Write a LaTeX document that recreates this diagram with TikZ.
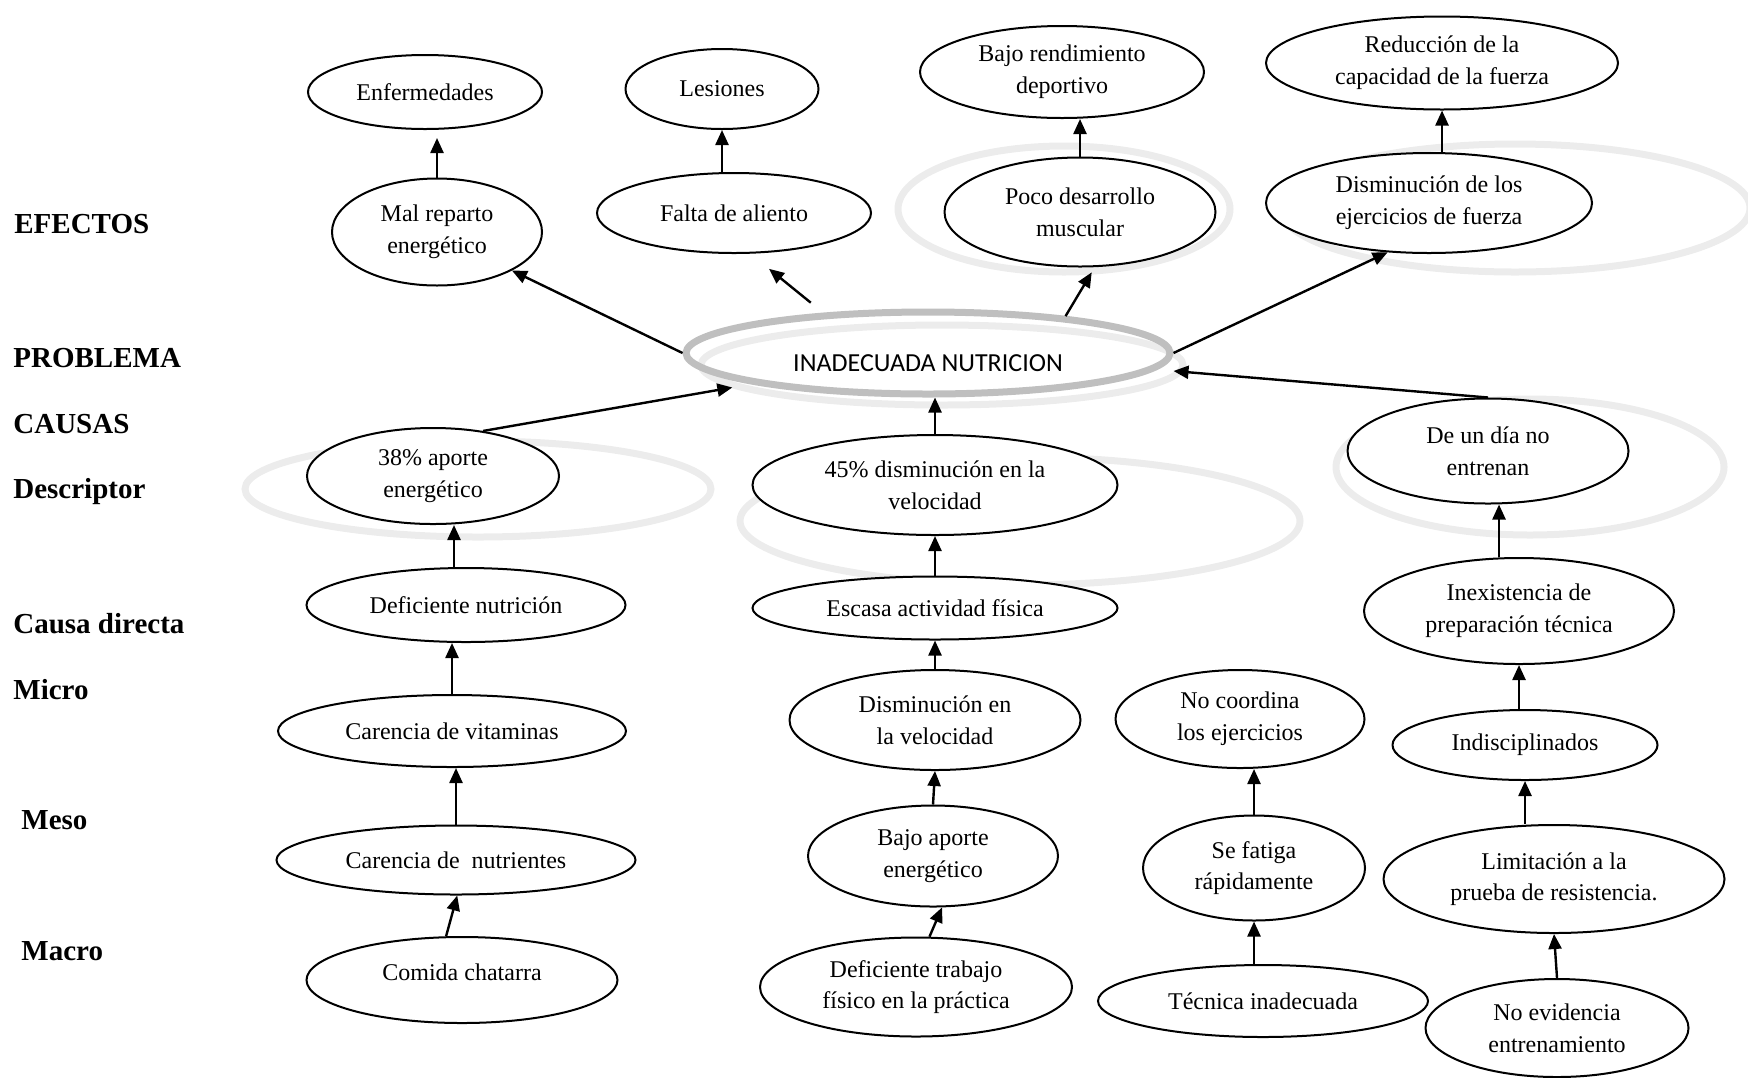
\documentclass[tikz,border=0pt]{standalone}
\usepackage{fontspec}
\setmainfont{Liberation Serif}
\newfontfamily\probfont{Carlito}
\usepackage{tikz}
\usetikzlibrary{shapes.geometric,arrows.meta}
\definecolor{ringlight}{RGB}{236,236,236}
\definecolor{ringdark}{RGB}{191,191,191}
\tikzstyle{bubble}=[ellipse,draw=black,line width=1pt,fill=white,inner sep=0pt,align=center,font=\fontsize{12}{15.8}\selectfont]
\tikzstyle{ring}=[draw=ringlight,line width=3.5pt]
\tikzstyle{link}=[draw,line width=1.2pt,-{Triangle[length=7.5pt,width=6.5pt]}]
\tikzstyle{level}=[anchor=base west,inner sep=0pt,font=\bfseries\fontsize{14.5}{17}\selectfont]

\begin{document}
\begin{tikzpicture}[x=0.5pt,y=-0.5pt]
  \useasboundingbox (0,0) rectangle (1748,1077);

  % row titles on the left
  \foreach \pos/\name/\txt in {
    {(14,233)/efe/EFECTOS},
    {(13,367)/pro/PROBLEMA},
    {(13,433)/cau/CAUSAS},
    {(13,498)/des/Descriptor},
    {(13,633)/cdi/Causa directa},
    {(13,699)/mic/Micro},
    {(21,829)/mes/Meso},
    {(21,960)/mac/Macro}}
    \node[level] (\name) at \pos {\txt};

  % light rings behind some bubbles
  \path[ring] (1064,209) ellipse [x radius=166, y radius=63];
  \path[ring] (1515,208) ellipse [x radius=235, y radius=64];
  \path[ring] (478,489) ellipse [x radius=233, y radius=48];
  \path[ring] (1020,521) ellipse [x radius=280, y radius=64];
  \path[ring] (1530,467) ellipse [x radius=194, y radius=68];

  % the bubbles
  \foreach \pos/\name/\w/\h/\txt in {
    {(425,92)/enf/234/74/Enfermedades},
    {(722,89)/les/193/80/Lesiones},
    {(1062,72)/bajo/284/92/Bajo rendimiento\\deportivo},
    {(1442,63)/redu/352/93/Reducción de la\\capacidad de la fuerza},
    {(437,232)/mal/210/107/Mal reparto\\energético},
    {(734,213)/fal/274/80/Falta de aliento},
    {(1080,212)/poco/271/109/Poco desarrollo\\muscular},
    {(1429,203)/dise/326/100/Disminución de los\\ejercicios de fuerza},
    {(433,476)/apo/252/96/38\% aporte\\energético},
    {(935,485)/vel/365/100/45\% disminución en la\\velocidad},
    {(1488,451)/dia/281/105/De un día no\\entrenan},
    {(466,605)/nut/319/74/Deficiente nutrición},
    {(935,608)/esc/365/63/Escasa actividad física},
    {(1519,611)/inex/310/106/Inexistencia de\\preparación técnica},
    {(452,731)/vit/348/72/Carencia de vitaminas},
    {(935,720)/dvel/291/100/Disminución en\\la velocidad},
    {(1240,719)/coo/249/98/No coordina\\los ejercicios},
    {(1525,745)/ind/265/70/Indisciplinados},
    {(456,860)/nutr/359/69/Carencia de\ \ nutrientes},
    {(933,856)/bap/250/101/Bajo aporte\\energético},
    {(1254,868)/fat/222/105/Se fatiga\\rápidamente},
    {(1554,879)/lim/341/108/Limitación a la\\prueba de resistencia.},
    {(462,980)/com/311/86/\raisebox{4pt}[\height][\depth]{Comida chatarra}},
    {(916,987)/trab/312/99/Deficiente trabajo\\físico en la práctica},
    {(1263,1001)/tec/330/72/Técnica inadecuada},
    {(1557,1028)/evi/263/98/No evidencia\\entrenamiento}}
    \node[bubble, minimum width=\w*0.5pt, minimum height=\h*0.5pt] (\name) at \pos {\txt};

  % central problem
  \path[ring] (942,365) ellipse [x radius=241, y radius=40];
  \node[ellipse,draw=ringdark,line width=3.5pt,minimum width=242pt,minimum height=41pt,inner sep=0pt,
        font=\probfont\fontsize{13}{15}\selectfont] (prob) at (928,353)
        {\raisebox{-5pt}[\height][\depth]{INADECUADA NUTRICION}};

  % effects
  \draw[link,shorten >=4pt] (mal.north) -- (mal.north |- enf.south);
  \draw[link] (les.south |- fal.north) -- (les.south);
  \draw[link] (poco.north) -- (poco.north |- bajo.south);
  \draw[link] (redu.south |- dise.north) -- (redu.south);
  \draw[link] (prob.west) -- (mal.south east);
  \draw[link,shorten <=8pt,shorten >=12pt] (prob.159) -- (fal.-68);
  \draw[link,shorten >=3pt] (prob.15) -- (poco.-75);
  \draw[link] (prob.east) -- (dise.-130);

  % causes
  \draw[link,shorten >=10pt] (apo.42) -- (prob.190);
  \draw[link] (vel.north) -- (vel.north |- prob.south);
  \draw[link] (dia.north) -- ([yshift=-9pt]prob.east);
  \draw[link] ([xshift=-6pt]nut.north) -- ([xshift=-6pt]nut.north |- apo.south);
  \draw[link] (vit.north) -- (vit.north |- nut.south);
  \draw[link] (nutr.north) -- (nutr.north |- vit.south);
  \draw[link] (com.110) -- (nutr.-88);
  \draw[link] (esc.north) -- (vel.south);
  \draw[link] (dvel.north) -- (esc.south);
  \draw[link] (bap.north) -- (dvel.south);
  \draw[link] (trab.75) -- (bap.-80);
  \draw[link] (fat.north) -- (fat.north |- coo.south);
  \draw[link] (fat.south |- tec.north) -- (fat.south);
  \draw[link] ([xshift=-10pt]inex.north) -- ([xshift=-10pt]inex.north |- dia.south);
  \draw[link] (inex.south |- ind.north) -- (inex.south);
  \draw[link] (ind.south |- lim.north) -- (ind.south);
  \draw[link] (evi.north) -- (lim.south);
\end{tikzpicture}
\end{document}
